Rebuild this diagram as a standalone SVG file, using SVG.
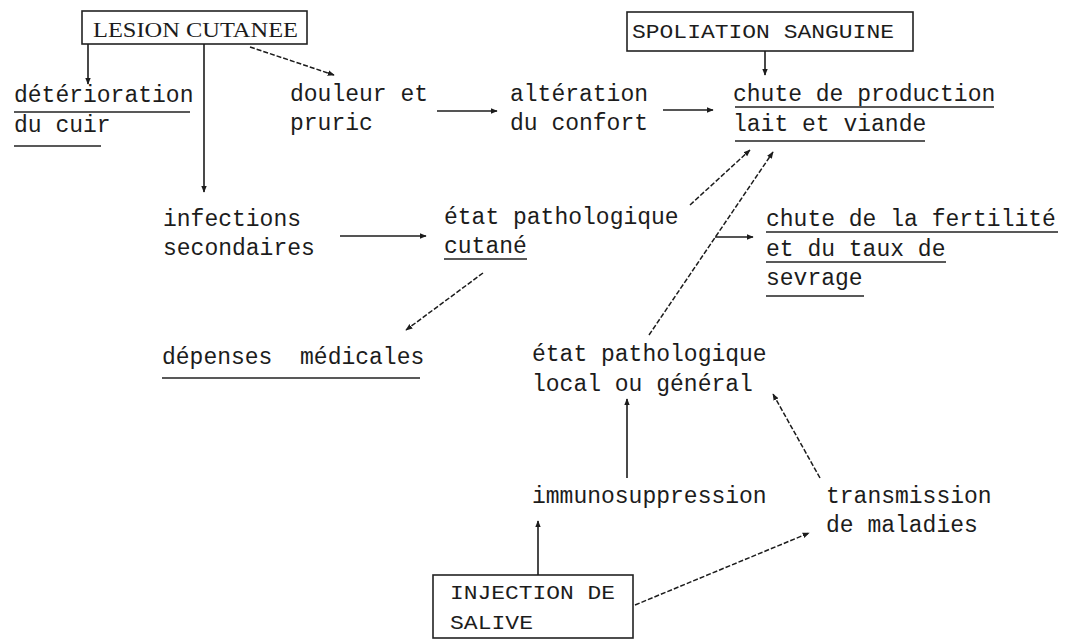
<svg xmlns="http://www.w3.org/2000/svg" width="1068" height="640" viewBox="0 0 1068 640">
  <style>
    .bg { fill: #ffffff; }
    .t { font-family: "Liberation Mono", "DejaVu Sans Mono", monospace; font-size: 23px; fill: #1c1c1c; white-space: pre; }
    .cap { font-family: "Liberation Mono", "DejaVu Sans Mono", monospace; font-size: 21px; fill: #1c1c1c; }
    .capserif { font-family: "Liberation Serif", "DejaVu Serif", serif; font-size: 22px; fill: #1c1c1c; }
    .box { fill: none; stroke: #222; stroke-width: 1.6; }
    .ul { stroke: #222; stroke-width: 1.5; fill: none; }
    .solid { stroke: #1c1c1c; stroke-width: 1.6; fill: none; marker-end: url(#head); }
    .dash { stroke: #1c1c1c; stroke-width: 1.5; fill: none; stroke-dasharray: 5 2; marker-end: url(#head); }
  </style>
  <defs>
    <marker id="head" viewBox="0 0 10 10" refX="9" refY="5" markerWidth="7" markerHeight="7" markerUnits="userSpaceOnUse" orient="auto">
      <path d="M0,1 L10,5 L0,9 Z" fill="#1c1c1c"/>
    </marker>
  </defs>
  <rect class="bg" x="0" y="0" width="1068" height="640"/>

  <!-- boxed sources -->
  <g id="lesion">
    <rect class="box" x="82" y="11" width="225" height="33"/>
    <text class="capserif" x="93" y="37" textLength="205" lengthAdjust="spacingAndGlyphs">LESION CUTANEE</text>
  </g>
  <g id="spoliation">
    <rect class="box" x="627" y="12" width="286" height="39"/>
    <text class="cap" x="632" y="38" textLength="262" lengthAdjust="spacingAndGlyphs">SPOLIATION SANGUINE</text>
  </g>
  <g id="injection">
    <rect class="box" x="433" y="575" width="200" height="63"/>
    <text class="cap" x="450" y="599" textLength="165" lengthAdjust="spacingAndGlyphs">INJECTION DE</text>
    <text class="cap" x="450" y="629" textLength="83" lengthAdjust="spacingAndGlyphs">SALIVE</text>
  </g>

  <!-- effects -->
  <g id="deterioration">
    <text class="t" x="14" y="102">détérioration</text>
    <line class="ul" x1="14" y1="112" x2="190" y2="112"/>
    <text class="t" x="14" y="132">du cuir</text>
    <line class="ul" x1="14" y1="146" x2="101" y2="146"/>
  </g>
  <g id="douleur">
    <text class="t" x="290" y="101">douleur et</text>
    <text class="t" x="290" y="130">pruric</text>
  </g>
  <g id="alteration">
    <text class="t" x="510" y="101">altération</text>
    <text class="t" x="510" y="130">du confort</text>
  </g>
  <g id="chute-production">
    <text class="t" x="733" y="101">chute de production</text>
    <line class="ul" x1="735" y1="107" x2="994" y2="107"/>
    <text class="t" x="733" y="131">lait et viande</text>
    <line class="ul" x1="735" y1="141" x2="925" y2="141"/>
  </g>
  <g id="infections">
    <text class="t" x="163" y="226">infections</text>
    <text class="t" x="163" y="255">secondaires</text>
  </g>
  <g id="etat-cutane">
    <text class="t" x="444" y="224">état pathologique</text>
    <text class="t" x="444" y="253">cutané</text>
    <line class="ul" x1="444" y1="259" x2="527" y2="259"/>
  </g>
  <g id="chute-fertilite">
    <text class="t" x="766" y="226">chute de la fertilité</text>
    <line class="ul" x1="766" y1="232" x2="1058" y2="232"/>
    <text class="t" x="766" y="256">et du taux de</text>
    <line class="ul" x1="766" y1="262" x2="946" y2="262"/>
    <text class="t" x="766" y="285">sevrage</text>
    <line class="ul" x1="766" y1="296" x2="864" y2="296"/>
  </g>
  <g id="depenses">
    <text class="t" x="162" y="364">dépenses  médicales</text>
    <line class="ul" x1="162" y1="378" x2="420" y2="378"/>
  </g>
  <g id="etat-general">
    <text class="t" x="532" y="361">état pathologique</text>
    <text class="t" x="532" y="391">local ou général</text>
  </g>
  <g id="immunosuppression">
    <text class="t" x="532" y="503">immunosuppression</text>
  </g>
  <g id="transmission">
    <text class="t" x="826" y="503">transmission</text>
    <text class="t" x="826" y="532">de maladies</text>
  </g>

  <!-- connectors -->
  <g id="connectors">
    <line class="solid" x1="88" y1="44" x2="88" y2="84"/>
    <line class="solid" x1="204" y1="44" x2="204" y2="192"/>
    <path class="dash" d="M250,47 L334,75"/>
    <line class="solid" x1="437" y1="111" x2="497" y2="111"/>
    <line class="solid" x1="663" y1="110" x2="713" y2="110"/>
    <line class="solid" x1="765" y1="51" x2="765" y2="75"/>
    <line class="solid" x1="340" y1="236" x2="426" y2="236"/>
    <path class="dash" d="M690,205 L750,150"/>
    <path class="dash" d="M649,335 L773,152"/>
    <line class="solid" x1="715" y1="237" x2="753" y2="237"/>
    <path class="dash" d="M483,273 L406,330"/>
    <line class="solid" x1="627" y1="478" x2="627" y2="399"/>
    <path class="dash" d="M820,478 L773,394"/>
    <line class="solid" x1="538" y1="575" x2="538" y2="521"/>
    <path class="dash" d="M635,605 L809,533"/>
  </g>
</svg>
